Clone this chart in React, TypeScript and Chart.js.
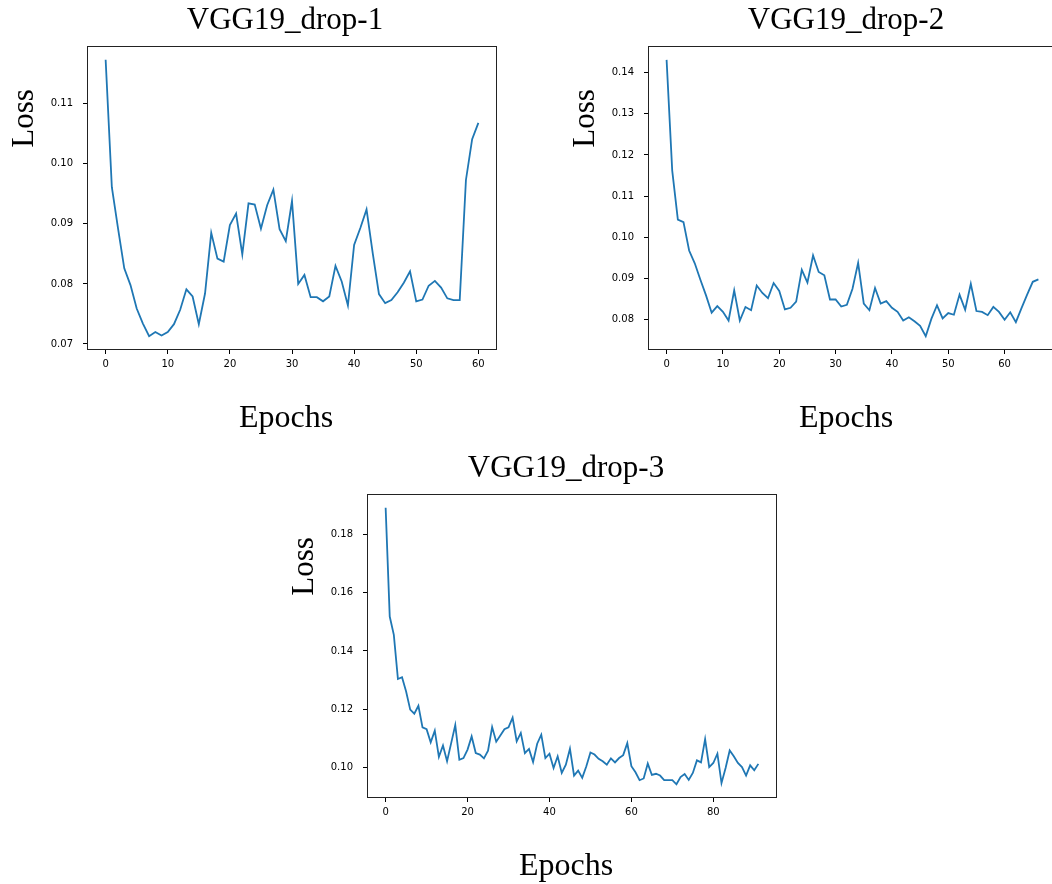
import React, { useEffect, useRef } from 'react';
import { Chart, registerables } from 'chart.js';

Chart.register(...registerables);

// ---- Data ----
const lossDrop1 = [
  0.1173, 0.0961, 0.0892, 0.0826, 0.0798, 0.0759, 0.0734, 0.0713, 0.0720, 0.0714,
  0.0720, 0.0733, 0.0757, 0.0791, 0.0779, 0.0733, 0.0784, 0.0885, 0.0842, 0.0837,
  0.0898, 0.0917, 0.0849, 0.0934, 0.0932, 0.0892, 0.0931, 0.0957, 0.0891, 0.0871,
  0.0938, 0.0800, 0.0815, 0.0778, 0.0778, 0.0771, 0.0779, 0.0830, 0.0804, 0.0764,
  0.0865, 0.0893, 0.0924, 0.0851, 0.0783, 0.0768, 0.0773, 0.0786, 0.0802, 0.0821,
  0.0771, 0.0774, 0.0797, 0.0805, 0.0794, 0.0776, 0.0773, 0.0773, 0.0973, 0.1041,
  0.1068,
];

const lossDrop2 = [
  0.1431, 0.1162, 0.1043, 0.1037, 0.0968, 0.0937, 0.0897, 0.0859, 0.0817, 0.0833,
  0.0819, 0.0798, 0.0871, 0.0798, 0.0831, 0.0823, 0.0883, 0.0865, 0.0852, 0.0889,
  0.0870, 0.0825, 0.0829, 0.0844, 0.0921, 0.0890, 0.0956, 0.0916, 0.0908, 0.0849,
  0.0849, 0.0832, 0.0836, 0.0875, 0.0938, 0.0839, 0.0823, 0.0877, 0.0839, 0.0845,
  0.0829, 0.0819, 0.0798, 0.0806, 0.0796, 0.0785, 0.0760, 0.0802, 0.0835, 0.0803,
  0.0816, 0.0812, 0.0861, 0.0824, 0.0887, 0.0821, 0.0819, 0.0811, 0.0831, 0.0819,
  0.0800, 0.0818, 0.0794, 0.0828, 0.0861, 0.0892, 0.0898,
];

const lossDrop3 = [
  0.1891, 0.1518, 0.1455, 0.1304, 0.1310, 0.1261, 0.1199, 0.1185, 0.1212, 0.1138,
  0.1132, 0.1087, 0.1127, 0.1037, 0.1076, 0.1022, 0.1084, 0.1146, 0.1027, 0.1033,
  0.1062, 0.1107, 0.1050, 0.1045, 0.1032, 0.1058, 0.1139, 0.1089, 0.1110, 0.1132,
  0.1138, 0.1171, 0.1090, 0.1119, 0.1050, 0.1064, 0.1019, 0.1082, 0.1113, 0.1033,
  0.1048, 0.0999, 0.1039, 0.0982, 0.1010, 0.1065, 0.0973, 0.0990, 0.0965, 0.1005,
  0.1052, 0.1045, 0.1030, 0.1022, 0.1010, 0.1032, 0.1018, 0.1033, 0.1043, 0.1084,
  0.1005, 0.0984, 0.0957, 0.0963, 0.1014, 0.0975, 0.0979, 0.0973, 0.0957, 0.0957,
  0.0957, 0.0943, 0.0968, 0.0978, 0.0958, 0.0982, 0.1025, 0.1018, 0.1098, 0.1002,
  0.1016, 0.1048, 0.0947, 0.0999, 0.1059, 0.1039, 0.1016, 0.1002, 0.0973, 0.1008,
  0.0991, 0.1013,
];

const xTicks1 = [0, 10, 20, 30, 40, 50, 60];
const yTicks1 = [0.07, 0.08, 0.09, 0.1, 0.11];
const xTicks2 = [0, 10, 20, 30, 40, 50, 60];
const yTicks2 = [0.08, 0.09, 0.1, 0.11, 0.12, 0.13, 0.14];
const xTicks3 = [0, 20, 40, 60, 80];
const yTicks3 = [0.1, 0.12, 0.14, 0.16, 0.18];

const titles = ['VGG19_drop-1', 'VGG19_drop-2', 'VGG19_drop-3'];
const xLabel = 'Epochs';
const yLabel = 'Loss';

// ---- Chart ----
const framePlugin = {
  id: 'frame',
  afterDraw(chart: any) {
    const { ctx, chartArea: a } = chart;
    ctx.save();
    ctx.strokeStyle = '#222';
    ctx.lineWidth = 1;
    ctx.strokeRect(Math.round(a.left) + 0.5, Math.round(a.top) + 0.5,
      Math.round(a.right - a.left) - 1, Math.round(a.bottom - a.top) - 1);
    ctx.restore();
  },
};

const YW = 60;
const XH = 30;
const PT = 10;
const PR = 20;

type Props = {
  values: number[];
  left: number; top: number; plotW: number; plotH: number;
  xMin: number; xMax: number; yMin: number; yMax: number;
  xTicks: number[]; yTicks: number[];
};

function zeroPad(s: any) {
  s.paddingTop = 0;
  s.paddingBottom = 0;
  s.paddingLeft = 0;
  s.paddingRight = 0;
}

function LossChart(p: Props) {
  const ref = useRef<HTMLCanvasElement>(null);
  const w = YW + p.plotW + PR;
  const h = PT + p.plotH + XH;
  useEffect(() => {
    if (!ref.current) return;
    const tickFont = { family: "'DejaVu Sans', sans-serif", size: 10 };
    const grid = { display: true, drawOnChartArea: false, drawTicks: true, tickLength: 4, color: '#000', lineWidth: 1 };
    const chart = new Chart(ref.current, {
      type: 'line',
      data: {
        datasets: [{
          data: p.values.map((v, i) => ({ x: i, y: v })),
          borderColor: '#1f77b4',
          borderWidth: 1.8,
          pointRadius: 0,
          tension: 0,
          fill: false,
        }],
      },
      options: {
        animation: false,
        responsive: false,
        devicePixelRatio: 1,
        events: [],
        layout: { padding: { top: PT, right: PR, left: 0, bottom: 0 } },
        plugins: { legend: { display: false }, tooltip: { enabled: false }, title: { display: false } },
        scales: {
          x: {
            type: 'linear',
            min: p.xMin,
            max: p.xMax,
            afterBuildTicks: (s: any) => { s.ticks = p.xTicks.map((v) => ({ value: v })); },
            afterFit: (s: any) => { s.height = XH; zeroPad(s); },
            grid,
            border: { display: false },
            ticks: { font: tickFont, color: '#000', padding: 4, autoSkip: false, maxRotation: 0, callback: (v: any) => String(v) },
          },
          y: {
            type: 'linear',
            min: p.yMin,
            max: p.yMax,
            afterBuildTicks: (s: any) => { s.ticks = p.yTicks.map((v) => ({ value: v })); },
            afterFit: (s: any) => { s.width = YW; zeroPad(s); },
            grid,
            border: { display: false },
            ticks: { font: tickFont, color: '#000', padding: 10, autoSkip: false, callback: (v: any) => Number(v).toFixed(2) },
          },
        },
      } as any,
      plugins: [framePlugin],
    });
    return () => chart.destroy();
  }, []);
  return (
    <canvas
      ref={ref}
      width={w}
      height={h}
      style={{ position: 'absolute', left: p.left - YW, top: p.top - PT, width: w, height: h }}
    />
  );
}

const serif = "'Liberation Serif', 'Times New Roman', serif";

export default function App() {
  return (
    <div style={{ position: 'absolute', left: 0, top: 0, width: 1052, height: 884, overflow: 'hidden', background: '#fff' }}>
      <LossChart values={lossDrop1} left={87} top={46} plotW={410} plotH={304}
        xMin={-3} xMax={63} yMin={0.069} yMax={0.1196} xTicks={xTicks1} yTicks={yTicks1} />
      <LossChart values={lossDrop2} left={648} top={46} plotW={409} plotH={304}
        xMin={-3.3} xMax={69.3} yMin={0.07264} yMax={0.14646} xTicks={xTicks2} yTicks={yTicks2} />
      <LossChart values={lossDrop3} left={367} top={494} plotW={410} plotH={304}
        xMin={-4.55} xMax={95.55} yMin={0.0896} yMax={0.1938} xTicks={xTicks3} yTicks={yTicks3} />
      <svg width={1052} height={884} style={{ position: 'absolute', left: 0, top: 0, pointerEvents: 'none' }}>
        <g fontFamily={serif} fill="#000">
          <text x={285} y={29} fontSize={31} textAnchor="middle">{titles[0]}</text>
          <text x={846} y={29} fontSize={31} textAnchor="middle">{titles[1]}</text>
          <text x={566} y={477} fontSize={31} textAnchor="middle">{titles[2]}</text>

          <text x={286} y={427} fontSize={32} textAnchor="middle">{xLabel}</text>
          <text x={846} y={427} fontSize={32} textAnchor="middle">{xLabel}</text>
          <text x={566} y={875} fontSize={32} textAnchor="middle">{xLabel}</text>

          <text transform="translate(33,118.5) rotate(-90)" fontSize={31} textAnchor="middle">{yLabel}</text>
          <text transform="translate(594,118.5) rotate(-90)" fontSize={31} textAnchor="middle">{yLabel}</text>
          <text transform="translate(313,566.5) rotate(-90)" fontSize={31} textAnchor="middle">{yLabel}</text>
        </g>
      </svg>
    </div>
  );
}
